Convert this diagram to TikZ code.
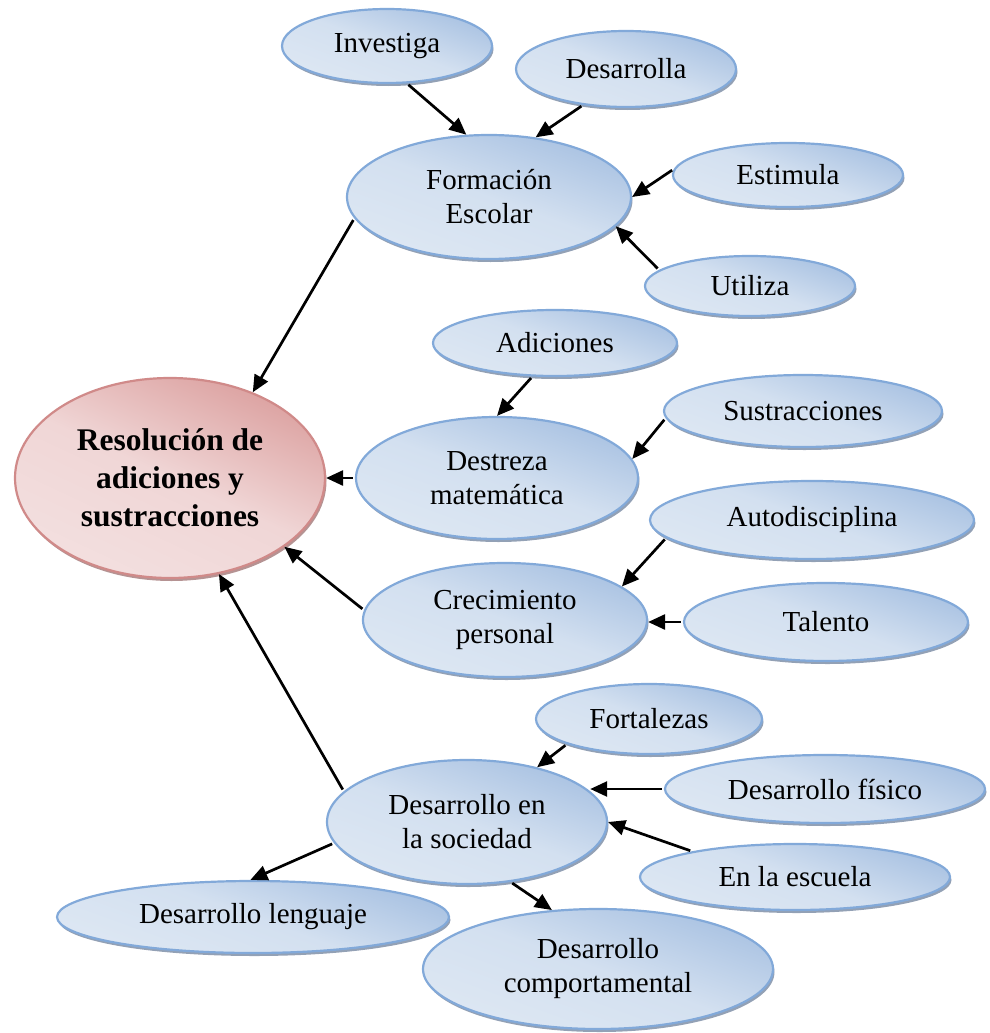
\documentclass[tikz,border=0pt]{standalone}
\usepackage{fontspec}
\setmainfont{Liberation Serif}
\usetikzlibrary{shapes.geometric,shadows,arrows.meta,calc}
\definecolor{bD}{HTML}{A9C2E2}
\definecolor{bM}{HTML}{D3E0F0}
\definecolor{bL}{HTML}{DDE7F3}
\definecolor{bB}{HTML}{82A9D9}
\definecolor{pD}{HTML}{DCA2A1}
\definecolor{pM}{HTML}{F0D6D6}
\definecolor{pL}{HTML}{F3DFDF}
\definecolor{pB}{HTML}{D08A89}
\definecolor{shc}{HTML}{8090A8}
\definecolor{pshc}{HTML}{A88080}
\tikzset{
  bub/.style={ellipse, draw=bB, line width=2.2pt, inner sep=0pt, align=center,
    font=\fontsize{29}{34}\selectfont,
    top color=bD, bottom color=bL, middle color=bM, shading angle=-20,
    drop shadow={shadow xshift=1.5pt, shadow yshift=-3pt, fill=shc, opacity=.85}},
  mainbub/.style={ellipse, draw=pB, line width=2.2pt, inner sep=0pt, align=center,
    font=\bfseries\fontsize{31.5}{38}\selectfont,
    top color=pD, bottom color=pL, middle color=pM, shading angle=-25,
    drop shadow={shadow xshift=1.5pt, shadow yshift=-3pt, fill=pshc, opacity=.85}},
  arr/.style={line width=2.7pt, draw=black, -{Triangle[length=17pt,width=15pt]}, shorten <=2pt}
}
\begin{document}
\begin{tikzpicture}[x=1pt,y=-1pt]
\useasboundingbox (0,0) rectangle (990,1033);
% central node
\node[mainbub, minimum width=310pt, minimum height=200pt] (res) at (170,478) {Resolución de\\adiciones y\\sustracciones};
% first branch
\node[bub, minimum width=210pt, minimum height=74pt] (inv) at (387,46) {Investiga};
\node[bub, minimum width=220pt, minimum height=76pt] (desa) at (626,69) {Desarrolla};
\node[bub, minimum width=284pt, minimum height=124pt] (form) at (489,197) {Formación\\Escolar};
\node[bub, minimum width=230pt, minimum height=64pt] (esti) at (788,175) {Estimula};
\node[bub, minimum width=210pt, minimum height=60pt] (util) at (750,286) {Utiliza};
% second branch
\node[bub, minimum width=244pt, minimum height=66pt] (adic) at (555,343) {Adiciones};
\node[bub, minimum width=278pt, minimum height=72pt] (sust) at (803,411) {Sustracciones};
\node[bub, minimum width=282pt, minimum height=122pt] (dest) at (497,478) {Destreza\\matemática};
% third branch
\node[bub, minimum width=324pt, minimum height=78pt] (auto) at (812,520) {Autodisciplina};
\node[bub, minimum width=284pt, minimum height=114pt] (crec) at (505,620) {Crecimiento\\personal};
\node[bub, minimum width=284pt, minimum height=78pt] (tal) at (826,622) {Talento};
% fourth branch
\node[bub, minimum width=226pt, minimum height=70pt] (fort) at (649,719) {Fortalezas};
\node[bub, minimum width=280pt, minimum height=124pt] (soc) at (467,822) {Desarrollo en\\la sociedad};
\node[bub, minimum width=320pt, minimum height=68pt] (fis) at (825,789) {Desarrollo físico};
\node[bub, minimum width=310pt, minimum height=66pt] (esc) at (795,877) {En la escuela};
\node[bub, minimum width=392pt, minimum height=72pt] (len) at (253,917) {Desarrollo lenguaje};
\node[bub, minimum width=350pt, minimum height=120pt] (comp) at (598,969) {Desarrollo\\comportamental};
% connectors
\draw[arr] (inv.-62) -- (form.110);
\draw[arr] (desa.-140) -- (form.52);
\draw[arr] (esti.177) -- (form.0);
\draw[arr] (util.170) -- (form.-13);
\draw[arr] (form.189) -- (res.46);
\draw[arr] (adic.-124) -- (dest.90);
\draw[arr] (sust.183) -- (dest.8);
\draw[arr] (dest.west) -- (dest.west -| res.east);
\draw[arr] (auto.187) -- (crec.16);
\draw[arr] (tal.west) -- (tal.west -| crec.east);
\draw[arr] (crec.176) -- (res.-31);
\draw[arr] (soc.166) -- (res.-63);
\draw[arr] (fort.-163) -- (soc.38);
\draw[arr] (fis.west) -- (fis.west -| soc.14);
\draw[arr] (esc.166) -- (soc.0);
\draw[arr] (soc.189) -- (len.94);
\draw[arr] (soc.-54) -- (comp.128);
\end{tikzpicture}
\end{document}
